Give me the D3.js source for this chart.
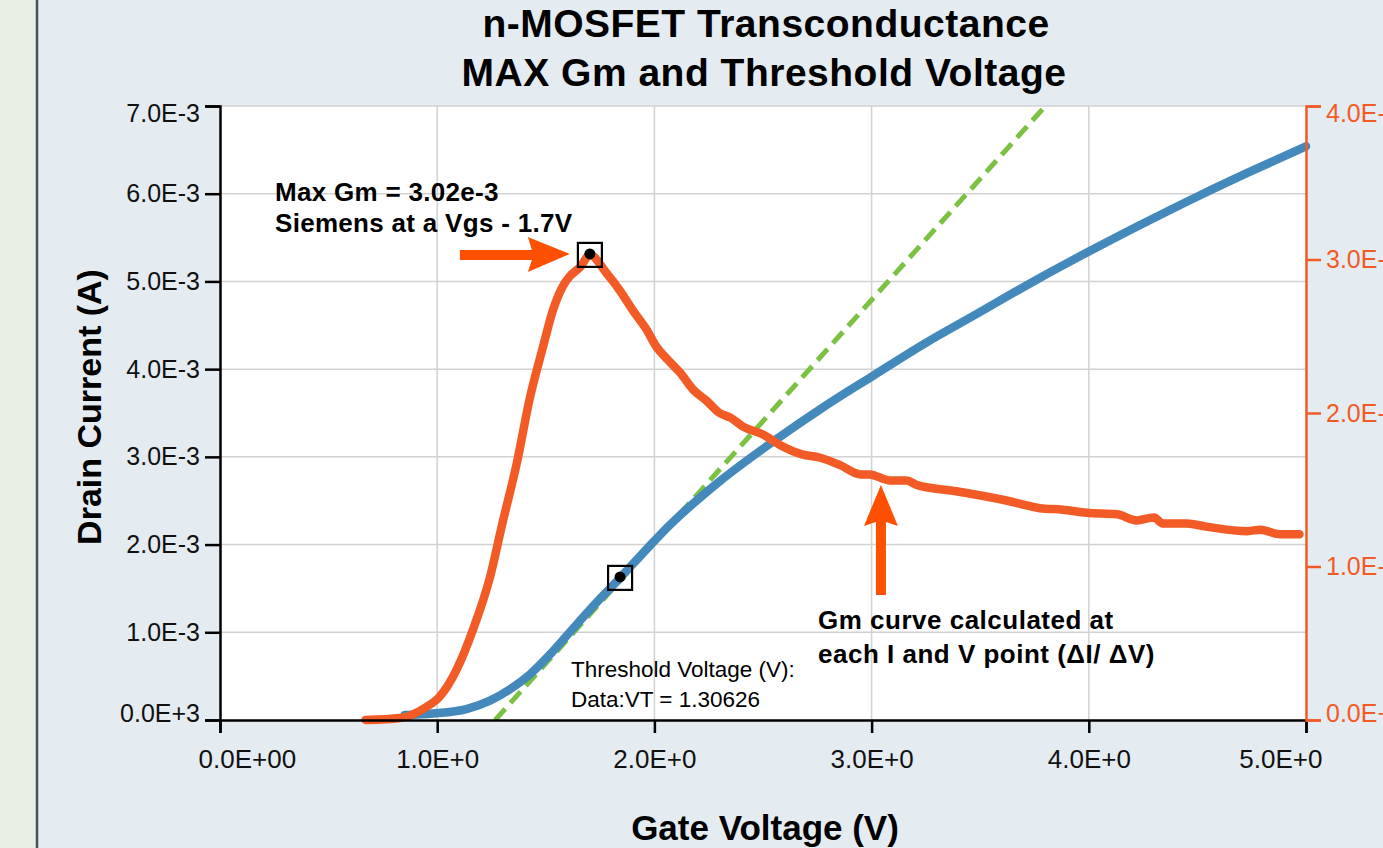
<!DOCTYPE html>
<html>
<head>
<meta charset="utf-8">
<script src="https://cdn.jsdelivr.net/npm/d3@7"></script>
<style>
  body { margin: 0; background: #e4ecf2; }
  svg { display: block; font-family: "Liberation Sans", Arial, Helvetica, sans-serif; }
  .grid line { stroke: #d2d2d2; stroke-width: 1.5; }
</style>
</head>
<body>
<div id="chart"></div>
<script>
// svg dimensions
let svgWidth = 1383;
let svgHeight = 848;

// plot box
let margin = { top: 106, right: 77, bottom: 128, left: 220 };
let chartWidth = svgWidth - margin.left - margin.right;
let chartHeight = svgHeight - margin.top - margin.bottom;

// drain current curve (Vgs in V, Id in A)
let idVgs = [0.85, 0.98, 1.135, 1.243, 1.335, 1.427, 1.52, 1.61, 1.70, 1.842, 1.98, 2.07, 2.30, 2.55, 2.78, 3.01, 3.25, 3.47, 3.76, 4.0, 4.25, 4.51, 4.75, 5.0];
let idAmps = [0.057, 0.075, 0.125, 0.22, 0.35, 0.52, 0.75, 1.00, 1.25, 1.62, 1.99, 2.22, 2.72, 3.18, 3.57, 3.93, 4.30, 4.61, 5.02, 5.34, 5.66, 5.98, 6.26, 6.54].map(v => v * 1e-3);

// transconductance curve (Vgs in V, Gm in S)
let gmVgs = [0.67, 0.83, 0.95, 1.01, 1.09, 1.165, 1.243, 1.30, 1.366, 1.427, 1.487, 1.533, 1.58, 1.61, 1.658, 1.703, 1.78, 1.84, 1.90, 1.965, 2.01, 2.06, 2.12, 2.18, 2.24, 2.30, 2.35, 2.41, 2.50, 2.58, 2.68, 2.76, 2.855, 2.95, 2.99, 3.085, 3.16, 3.21, 3.39, 3.62, 3.775, 3.88, 3.99, 4.13, 4.22, 4.30, 4.34, 4.45, 4.54, 4.73, 4.79, 4.88, 4.97];
let gmSiemens = [0, 0.013, 0.085, 0.15, 0.33, 0.59, 0.93, 1.28, 1.67, 2.10, 2.43, 2.67, 2.83, 2.89, 2.95, 3.03, 2.91, 2.80, 2.67, 2.54, 2.43, 2.35, 2.26, 2.15, 2.08, 2.0, 1.97, 1.91, 1.86, 1.79, 1.73, 1.71, 1.66, 1.60, 1.60, 1.56, 1.56, 1.53, 1.49, 1.43, 1.38, 1.37, 1.35, 1.34, 1.30, 1.32, 1.28, 1.28, 1.26, 1.23, 1.24, 1.21, 1.21].map(v => v * 1e-3);

// threshold fit line (tangent at max Gm)
let fitVgs = [1.267, 3.80];
let fitAmps = [0, 7.0e-3];

// marked points
let peakGm = { v: 1.703, gm: 3.03e-3 };
let tangentPt = { v: 1.842, id: 1.62e-3 };

// ticks
let xTicks = [0, 1, 2, 3, 4, 5];
let xTickLabels = ["0.0E+00", "1.0E+0", "2.0E+0", "3.0E+0", "4.0E+0", "5.0E+0"];
let yTicks = [0, 1e-3, 2e-3, 3e-3, 4e-3, 5e-3, 6e-3, 7e-3];
let yTickLabels = ["0.0E+3", "1.0E-3", "2.0E-3", "3.0E-3", "4.0E-3", "5.0E-3", "6.0E-3", "7.0E-3"];
let y2Ticks = [0, 1e-3, 2e-3, 3e-3, 4e-3];
let y2TickLabels = ["0.0E+0", "1.0E-3", "2.0E-3", "3.0E-3", "4.0E-3"];

let blue = "#4489bc";
let orange = "#f25b25";
let arrowColor = "#fe5000";
let green = "#7bc142";

let svg = d3.select("#chart")
  .append("svg")
  .attr("width", svgWidth)
  .attr("height", svgHeight);

// page background: left strip + divider
svg.append("rect").attr("x", 0).attr("y", 0).attr("width", 36).attr("height", svgHeight).attr("fill", "#e7eee4");
svg.append("line").attr("x1", 37).attr("x2", 37).attr("y1", 0).attr("y2", svgHeight)
  .attr("stroke", "#4c5157").attr("stroke-width", 2.5);

let chartGroup = svg.append("g")
  .attr("transform", `translate(${margin.left}, ${margin.top})`);

chartGroup.append("rect")
  .attr("width", chartWidth)
  .attr("height", chartHeight)
  .attr("fill", "#ffffff");

/********************************************/
// scales

let xScale = d3.scaleLinear().domain([0, 5]).range([0, chartWidth]);
let yScale = d3.scaleLinear().domain([0, 7e-3]).range([chartHeight, 0]);
let y2Scale = d3.scaleLinear().domain([0, 4e-3]).range([chartHeight, 0]);

/********************************************/
// grid

let grid = chartGroup.append("g").attr("class", "grid");
grid.selectAll(".vg")
  .data(xTicks.filter(d => d > 0 && d < 5))
  .enter()
  .append("line")
  .attr("x1", d => xScale(d)).attr("x2", d => xScale(d))
  .attr("y1", 0).attr("y2", chartHeight);
grid.selectAll(".hg")
  .data(yTicks.filter(d => d > 0))
  .enter()
  .append("line")
  .attr("x1", 0).attr("x2", chartWidth)
  .attr("y1", d => yScale(d)).attr("y2", d => yScale(d));

/********************************************/
// curves

let fitLine = d3.line().x((d, i) => xScale(fitVgs[i])).y(d => yScale(d));
chartGroup.append("path")
  .datum(fitAmps)
  .attr("d", fitLine)
  .attr("fill", "none")
  .attr("stroke", green)
  .attr("stroke-width", 5)
  .attr("stroke-dasharray", "15 8");

let idLine = d3.line()
  .x((d, i) => xScale(idVgs[i]))
  .y(d => yScale(d))
  .curve(d3.curveMonotoneX);
chartGroup.append("path")
  .datum(idAmps)
  .attr("d", idLine)
  .attr("fill", "none")
  .attr("stroke", blue)
  .attr("stroke-width", 8.5)
  .attr("stroke-linecap", "round")
  .attr("stroke-linejoin", "round");

let gmLine = d3.line()
  .x((d, i) => xScale(gmVgs[i]))
  .y(d => y2Scale(d))
  .curve(d3.curveMonotoneX);
chartGroup.append("path")
  .datum(gmSiemens)
  .attr("d", gmLine)
  .attr("fill", "none")
  .attr("stroke", orange)
  .attr("stroke-width", 8.5)
  .attr("stroke-linecap", "round")
  .attr("stroke-linejoin", "round");

/********************************************/
// axes

let xAxis = d3.axisBottom(xScale)
  .tickValues(xTicks)
  .tickFormat((d, i) => xTickLabels[i])
  .tickSize(13)
  .tickPadding(17);
let gx = chartGroup.append("g")
  .attr("class", "axis x-axis")
  .attr("transform", `translate(0, ${chartHeight})`)
  .call(xAxis);

let yAxis = d3.axisLeft(yScale)
  .tickValues(yTicks)
  .tickFormat((d, i) => yTickLabels[i])
  .tickSize(15)
  .tickPadding(5);
let gy = chartGroup.append("g")
  .attr("class", "axis y-axis")
  .call(yAxis);

let y2Axis = d3.axisRight(y2Scale)
  .tickValues(y2Ticks)
  .tickFormat((d, i) => y2TickLabels[i])
  .tickSize(15)
  .tickPadding(5);
let gy2 = chartGroup.append("g")
  .attr("class", "axis y2-axis")
  .attr("transform", `translate(${chartWidth}, 0)`)
  .call(y2Axis);

[gx, gy].forEach(g => {
  g.selectAll("path, line").attr("stroke", "#000").attr("stroke-width", 2.5);
  g.selectAll("text").attr("fill", "#111").style("font-size", "25px");
});
gx.selectAll("text").style("font-size", "26px");
gy2.selectAll("path, line").attr("stroke", orange).attr("stroke-width", 2.5);
gy2.selectAll("text").attr("fill", orange).style("font-size", "25px");

// end labels sit inside the axis span
[gy, gy2].forEach(g => {
  g.selectAll(".tick text").attr("y", function (d) {
    if (d === 0) return -7;
    if (d === 7e-3 || (g === gy2 && d === 4e-3)) return 7;
    return 0;
  });
});
gx.selectAll(".tick text")
  .filter(d => d === 0)
  .attr("text-anchor", "start")
  .attr("x", -22);
gx.selectAll(".tick text")
  .filter(d => d === 5)
  .attr("text-anchor", "end")
  .attr("x", 16);

/********************************************/
// markers

function boxMarker(cx, cy) {
  chartGroup.append("rect")
    .attr("x", cx - 12).attr("y", cy - 12)
    .attr("width", 24).attr("height", 24)
    .attr("fill", "none")
    .attr("stroke", "#000")
    .attr("stroke-width", 2.2);
  chartGroup.append("circle")
    .attr("cx", cx).attr("cy", cy - 1)
    .attr("r", 5.5)
    .attr("fill", "#000");
}
boxMarker(xScale(peakGm.v), y2Scale(peakGm.gm));
boxMarker(xScale(tangentPt.v), yScale(tangentPt.id));

/********************************************/
// arrows

let px = xScale(peakGm.v), py = y2Scale(peakGm.gm);
let a1 = [
  [px - 20, py - 1], [px - 62, py - 18], [px - 58, py - 5], [px - 130, py - 5],
  [px - 130, py + 5], [px - 58, py + 5], [px - 62, py + 17]
];
chartGroup.append("polygon")
  .attr("points", a1.map(p => p.join(",")).join(" "))
  .attr("fill", arrowColor);

let qx = xScale(3.02), qy = y2Scale(1.59e-3);
let a2 = [
  [qx + 5, qy + 9], [qx + 22, qy + 50], [qx + 10, qy + 46], [qx + 10, qy + 119],
  [qx, qy + 119], [qx, qy + 46], [qx - 12, qy + 50]
];
chartGroup.append("polygon")
  .attr("points", a2.map(p => p.join(",")).join(" "))
  .attr("fill", arrowColor);

/********************************************/
// text

svg.append("text")
  .attr("x", 766).attr("y", 37)
  .attr("text-anchor", "middle")
  .style("font-size", "39px").style("font-weight", "bold")
  .style("letter-spacing", "0.5px")
  .text("n-MOSFET Transconductance");
svg.append("text")
  .attr("x", 764).attr("y", 86)
  .attr("text-anchor", "middle")
  .style("font-size", "39px").style("font-weight", "bold")
  .style("letter-spacing", "0.5px")
  .text("MAX Gm and Threshold Voltage");

svg.append("text")
  .attr("transform", "translate(101, 407) rotate(-90)")
  .attr("text-anchor", "middle")
  .style("font-size", "34px").style("font-weight", "bold")
  .text("Drain Current (A)");
svg.append("text")
  .attr("x", 765).attr("y", 840)
  .attr("text-anchor", "middle")
  .style("font-size", "35px").style("font-weight", "bold")
  .text("Gate Voltage (V)");

function note(lines, x, y, gap, size, weight, spacing) {
  let t = svg.append("text")
    .style("font-size", size + "px")
    .style("font-weight", weight)
    .style("letter-spacing", spacing + "px")
    .attr("fill", "#000");
  lines.forEach((s, i) => {
    t.append("tspan").attr("x", x).attr("y", y + i * gap).text(s);
  });
}
note(["Max Gm = 3.02e-3", "Siemens at a Vgs - 1.7V"], 275, 201, 31, 26, "bold", 0.3);
note(["Gm curve calculated at", "each I and V point (\u0394I/ \u0394V)"], 818, 629, 34, 26, "bold", 0.5);
note(["Threshold Voltage (V):", "Data:VT = 1.30626"], 571, 677, 30, 22.5, "normal", 0);
</script>
</body>
</html>
